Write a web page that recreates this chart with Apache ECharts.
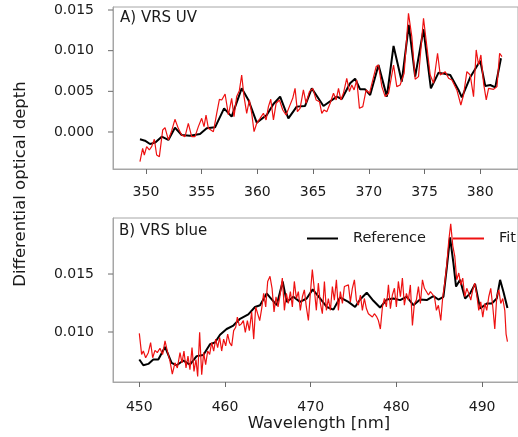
<!DOCTYPE html>
<html>
<head>
<meta charset="utf-8">
<script src="https://cdn.jsdelivr.net/npm/echarts@6/dist/echarts.min.js"></script>
<style>
html,body{margin:0;padding:0;background:#fff;}
#chart{width:518px;height:437px;}
</style>
</head>
<body>
<div id="chart"></div>
<script>
// ---------- data (wavelength nm, differential optical depth) ----------
const uvReference = [
[349.46,-0.00090],[349.91,-0.00107],[350.36,-0.00148],[350.81,-0.00131],[351.41,-0.00057],
[352.01,-0.00098],[352.60,0.00053],[353.20,-0.00037],[353.95,-0.00045],[354.85,-0.00025],
[355.45,0.00045],[356.20,0.00057],[357.01,0.00291],[357.69,0.00189],[358.59,0.00537],
[359.19,0.00394],[359.94,0.00115],[360.84,0.00209],[361.44,0.00344],[362.04,0.00435],
[362.78,0.00168],[363.53,0.00312],[364.28,0.00320],[364.88,0.00537],[365.93,0.00320],
[367.13,0.00435],[367.57,0.00406],[368.32,0.00599],[368.77,0.00656],[369.22,0.00525],
[369.67,0.00525],[370.12,0.00455],[370.87,0.00824],[371.62,0.00435],[372.22,0.01058],
[372.96,0.00619],[373.59,0.01316],[374.16,0.00681],[374.91,0.01263],[375.57,0.00537],
[376.26,0.00730],[377.31,0.00701],[378.05,0.00517],[378.35,0.00426],[379.10,0.00672],
[380.00,0.00877],[380.45,0.00566],[380.90,0.00578],[381.35,0.00549],[381.86,0.00906]
];
const uvFit = [
[349.46,-0.00365],[349.70,-0.00201],[349.85,-0.00283],[350.06,-0.00180],[350.30,-0.00221],
[350.51,-0.00180],[350.75,-0.00090],[350.96,-0.00283],[351.20,-0.00303],[351.50,0.00025],
[351.71,0.00053],[352.01,-0.00098],[352.31,0.00016],[352.60,0.00156],[352.90,0.00045],
[353.20,-0.00037],[353.50,-0.00057],[353.80,0.00107],[354.10,-0.00057],[354.40,-0.00057],
[354.70,0.00066],[355.00,0.00168],[355.21,0.00066],[355.39,0.00209],[355.60,0.00045],
[356.05,0.00004],[356.35,0.00230],[356.59,0.00402],[356.80,0.00394],[357.10,0.00467],
[357.40,0.00209],[357.69,0.00414],[357.90,0.00189],[358.14,0.00435],[358.38,0.00508],
[358.59,0.00701],[358.80,0.00435],[359.04,0.00230],[359.28,0.00394],[359.49,0.00230],
[359.70,0.00004],[359.94,0.00107],[360.24,0.00168],[360.54,0.00230],[360.78,0.00148],
[360.99,0.00312],[361.20,0.00402],[361.44,0.00148],[361.68,0.00353],[361.98,0.00394],
[362.28,0.00271],[362.57,0.00209],[362.87,0.00312],[363.17,0.00414],[363.38,0.00537],
[363.59,0.00250],[363.83,0.00291],[364.13,0.00517],[364.37,0.00353],[364.67,0.00496],
[364.97,0.00537],[365.27,0.00394],[365.57,0.00373],[365.78,0.00230],[365.99,0.00271],
[366.23,0.00250],[366.53,0.00353],[366.83,0.00476],[367.07,0.00394],[367.28,0.00537],
[367.49,0.00394],[367.72,0.00476],[368.02,0.00660],[368.26,0.00496],[368.47,0.00578],
[368.68,0.00517],[368.92,0.00640],[369.16,0.00291],[369.46,0.00312],[369.76,0.00517],
[370.06,0.00476],[370.36,0.00640],[370.66,0.00804],[370.87,0.00824],[371.17,0.00558],
[371.47,0.00435],[371.77,0.00476],[372.22,0.00824],[372.51,0.00558],[372.81,0.00578],
[373.17,0.00722],[373.56,0.01460],[373.86,0.01173],[374.16,0.00648],[374.46,0.00681],
[374.91,0.01398],[375.21,0.01050],[375.51,0.00701],[375.81,0.00599],[376.17,0.00968],
[376.41,0.00701],[376.86,0.00742],[377.16,0.00660],[377.46,0.00640],[377.90,0.00517],
[378.26,0.00332],[378.50,0.00455],[378.80,0.00742],[379.10,0.00701],[379.40,0.00435],
[379.64,0.01009],[379.85,0.00824],[380.06,0.00947],[380.30,0.00599],[380.54,0.00394],
[380.75,0.00537],[381.20,0.00525],[381.50,0.00558],[381.74,0.00968],[381.95,0.00927]
];
const blueReference = [
[450.00,0.00763],[450.47,0.00713],[451.05,0.00725],[451.63,0.00763],[452.22,0.00763],
[453.00,0.00871],[453.77,0.00734],[454.36,0.00713],[455.14,0.00754],[455.91,0.00719],
[456.69,0.00792],[457.47,0.00801],[458.25,0.00895],[458.83,0.00909],[459.42,0.00977],
[460.19,0.01026],[460.97,0.01056],[461.75,0.01114],[462.72,0.01152],[463.50,0.01216],
[464.09,0.01231],[464.86,0.01333],[465.25,0.01298],[466.03,0.01231],[466.73,0.01436],
[467.20,0.01260],[467.98,0.01304],[468.75,0.01260],[469.53,0.01289],[470.23,0.01368],
[471.09,0.01289],[471.87,0.01216],[472.65,0.01193],[473.42,0.01298],[474.40,0.01260],
[475.18,0.01216],[475.76,0.01280],[476.54,0.01339],[477.32,0.01269],[478.09,0.01211],
[478.87,0.01280],[479.65,0.01289],[480.43,0.01275],[481.21,0.01304],[481.98,0.01231],
[482.76,0.01280],[483.54,0.01275],[484.32,0.01310],[484.90,0.01280],[485.49,0.01304],
[485.88,0.01553],[486.26,0.01816],[486.65,0.01596],[486.96,0.01392],[487.43,0.01450],
[488.02,0.01289],[488.60,0.01333],[489.18,0.01415],[489.77,0.01202],[490.54,0.01246],
[491.13,0.01246],[491.71,0.01289],[492.10,0.01450],[492.49,0.01348],[492.96,0.01208]
];
const blueFit = [
[450.00,0.00988],[450.27,0.00807],[450.47,0.00836],[450.74,0.00778],[451.05,0.00822],
[451.32,0.00909],[451.56,0.00778],[451.83,0.00842],[452.10,0.00822],[452.41,0.00860],
[452.72,0.00807],[453.00,0.00924],[453.27,0.00836],[453.58,0.00749],[453.85,0.00637],
[454.16,0.00734],[454.44,0.00690],[454.75,0.00822],[454.98,0.00734],[455.21,0.00836],
[455.45,0.00690],[455.68,0.00792],[455.91,0.00675],[456.15,0.00865],[456.38,0.00661],
[456.61,0.00763],[456.81,0.00617],[457.04,0.00997],[457.28,0.00632],[457.51,0.00822],
[457.74,0.00719],[457.98,0.00836],[458.21,0.00807],[458.44,0.00909],[458.68,0.00836],
[458.91,0.00939],[459.14,0.00865],[459.38,0.00953],[459.61,0.00836],[459.84,0.00939],
[460.08,0.00880],[460.31,0.00982],[460.54,0.00909],[460.78,0.00880],[461.01,0.01012],
[461.25,0.01041],[461.44,0.01129],[461.67,0.01056],[461.91,0.01070],[462.14,0.01099],
[462.37,0.00997],[462.61,0.01099],[462.84,0.01012],[463.11,0.01173],[463.35,0.00939],
[463.58,0.01216],[463.81,0.01158],[464.05,0.01099],[464.28,0.01202],[464.51,0.01333],
[464.75,0.01216],[464.98,0.01436],[465.25,0.01480],[465.49,0.01377],[465.72,0.01173],
[465.95,0.01304],[466.19,0.01216],[466.46,0.01333],[466.69,0.01465],[466.93,0.01187],
[467.16,0.01333],[467.39,0.01246],[467.63,0.01348],[467.86,0.01216],[468.09,0.01436],
[468.33,0.01289],[468.56,0.01348],[468.79,0.01187],[469.03,0.01304],[469.26,0.01363],
[469.49,0.01216],[469.73,0.01099],[469.96,0.01333],[470.19,0.01538],[470.43,0.01363],
[470.66,0.01187],[470.89,0.01421],[471.13,0.01246],[471.36,0.01158],[471.60,0.01436],
[471.83,0.01187],[472.06,0.01289],[472.30,0.01187],[472.53,0.01392],[472.76,0.01275],
[473.00,0.01450],[473.23,0.01187],[473.46,0.01348],[473.70,0.01246],[473.93,0.01392],
[474.16,0.01377],[474.40,0.01406],[474.63,0.01260],[474.86,0.01377],[475.10,0.01450],
[475.33,0.01275],[475.56,0.01231],[475.80,0.01319],[476.03,0.01187],[476.26,0.01289],
[476.50,0.01202],[476.73,0.01158],[476.96,0.01173],[477.20,0.01129],[477.43,0.01158],
[477.67,0.01135],[477.90,0.01099],[478.13,0.01026],[478.37,0.01216],[478.60,0.01289],
[478.83,0.01216],[479.07,0.01406],[479.30,0.01202],[479.53,0.01319],[479.77,0.01377],
[480.00,0.01216],[480.23,0.01436],[480.47,0.01304],[480.70,0.01465],[480.93,0.01231],
[481.17,0.01333],[481.40,0.01275],[481.63,0.01406],[481.87,0.01056],[482.10,0.01246],
[482.33,0.01275],[482.57,0.01392],[482.80,0.01246],[483.04,0.01450],[483.27,0.01377],
[483.50,0.01363],[483.74,0.01319],[483.97,0.01348],[484.20,0.01363],[484.44,0.01304],
[484.67,0.01187],[484.90,0.01231],[485.18,0.01099],[485.41,0.01304],[485.64,0.01421],
[485.88,0.01582],[486.11,0.01787],[486.34,0.01933],[486.58,0.01743],[486.81,0.01655],
[487.04,0.01450],[487.28,0.01509],[487.51,0.01406],[487.74,0.01465],[487.98,0.01304],
[488.21,0.01377],[488.44,0.01333],[488.68,0.01275],[488.91,0.01363],[489.14,0.01421],
[489.38,0.01319],[489.61,0.01187],[489.84,0.01260],[490.08,0.01129],[490.31,0.01246],
[490.54,0.01187],[490.78,0.01304],[491.01,0.01377],[491.25,0.01216],[491.48,0.01026],
[491.71,0.01304],[491.95,0.01363],[492.18,0.01246],[492.41,0.01289],[492.65,0.01187],
[492.80,0.00982],[492.96,0.00918]
];
const uvXTicks = [350, 355, 360, 365, 370, 375, 380];
const uvYTicks = [0.000, 0.005, 0.010, 0.015];
const blueXTicks = [450, 460, 470, 480, 490];
const blueYTicks = [0.010, 0.015];
const seriesNames = ['Reference', 'Fit'];

// ---------- chart ----------
const FONT = 'DejaVu Sans';
const TXT = '#1a1a1a';
const BORDER = '#a6a6a6';
const TICK = '#6a6a6a';
const UV_X = [347.04, 383.39], UV_Y = [-0.00455, 0.01537];
const BL_X = [446.93, 494.19], BL_Y = [0.00569, 0.01983];

function xAxisCfg(idx, range, ticks, margin) {
  return {
    type: 'value', gridIndex: idx, min: range[0], max: range[1],
    axisLine: {show: true, onZero: false, lineStyle: {color: BORDER, width: 1}},
    splitLine: {show: false},
    axisTick: {show: true, inside: false, length: 5, customValues: ticks, lineStyle: {color: TICK, width: 1}},
    axisLabel: {show: true, customValues: ticks, margin: margin, color: TXT,
      fontFamily: FONT, fontSize: 14, formatter: v => String(v)}
  };
}
function yAxisCfg(idx, range) {
  return {
    type: 'value', gridIndex: idx, min: range[0], max: range[1],
    axisLine: {show: true, lineStyle: {color: BORDER, width: 1}},
    splitLine: {show: false},
    axisTick: {show: false},
    axisLabel: {show: false}
  };
}
// y-axis ticks and tick labels placed through the axis scale (custom series)
function yTickSeries(idx, xMin, ticks) {
  return {
    type: 'custom', xAxisIndex: idx, yAxisIndex: idx, silent: true, clip: false, z: 10,
    data: ticks.map(v => [xMin, v]),
    renderItem: (params, api) => {
      const val = api.value(1);
      const p = api.coord([api.value(0), val]);
      return {
        type: 'group',
        children: [
          {type: 'line', shape: {x1: p[0] - 5, y1: p[1], x2: p[0], y2: p[1]},
            style: {stroke: TICK, lineWidth: 1}},
          {type: 'text', x: p[0] - 19, y: p[1],
            style: {text: val.toFixed(3), align: 'right', verticalAlign: 'middle',
              fontSize: 14, fontFamily: FONT, fill: TXT}}
        ]
      };
    }
  };
}

const chart = echarts.init(document.getElementById('chart'), null, {renderer: 'canvas'});
chart.setOption({
  animation: false,
  grid: [
    {left: 113, top: 7, right: 0, height: 162, show: true, borderColor: BORDER, borderWidth: 1},
    {left: 113, top: 218, right: 0, height: 164, show: true, borderColor: BORDER, borderWidth: 1}
  ],
  xAxis: [
    xAxisCfg(0, UV_X, uvXTicks, 16),
    xAxisCfg(1, BL_X, blueXTicks, 18)
  ],
  yAxis: [
    yAxisCfg(0, UV_Y),
    yAxisCfg(1, BL_Y)
  ],
  legend: {
    orient: 'horizontal',
    left: 307, top: 231, width: 300, padding: 0,
    icon: 'rect',
    itemWidth: 31, itemHeight: 2, itemGap: 27,
    textStyle: {fontFamily: FONT, fontSize: 14.5, color: TXT, padding: [0, 0, 0, 10]},
    data: seriesNames
  },
  series: [
    {name: seriesNames[0], type: 'line', xAxisIndex: 0, yAxisIndex: 0, data: uvReference,
      showSymbol: false, symbol: 'none', lineStyle: {color: '#000', width: 2}, itemStyle: {color: '#000'}, z: 2},
    {name: seriesNames[1], type: 'line', xAxisIndex: 0, yAxisIndex: 0, data: uvFit,
      showSymbol: false, symbol: 'none', lineStyle: {color: '#ee1111', width: 1.2}, itemStyle: {color: '#ee1111'}, z: 3},
    {name: seriesNames[0], type: 'line', xAxisIndex: 1, yAxisIndex: 1, data: blueReference,
      showSymbol: false, symbol: 'none', lineStyle: {color: '#000', width: 2}, itemStyle: {color: '#000'}, z: 2},
    {name: seriesNames[1], type: 'line', xAxisIndex: 1, yAxisIndex: 1, data: blueFit,
      showSymbol: false, symbol: 'none', lineStyle: {color: '#ee1111', width: 1.2}, itemStyle: {color: '#ee1111'}, z: 3},
    yTickSeries(0, UV_X[0], uvYTicks),
    yTickSeries(1, BL_X[0], blueYTicks)
  ],
  graphic: [
    {type: 'text', left: 120, top: 11, style: {text: 'A) VRS UV', font: '15px "DejaVu Sans"', fill: TXT}},
    {type: 'text', left: 119, top: 224, style: {text: 'B) VRS blue', font: '15px "DejaVu Sans"', fill: TXT}},
    {type: 'text', x: 319, y: 424, style: {text: 'Wavelength [nm]', font: '16.5px "DejaVu Sans"', fill: TXT, align: 'center', verticalAlign: 'middle'}},
    {type: 'text', x: 21, y: 184, rotation: Math.PI / 2, style: {text: 'Differential optical depth', font: '16.5px "DejaVu Sans"', fill: TXT, align: 'center', verticalAlign: 'middle'}}
  ]
});
</script>
</body>
</html>
